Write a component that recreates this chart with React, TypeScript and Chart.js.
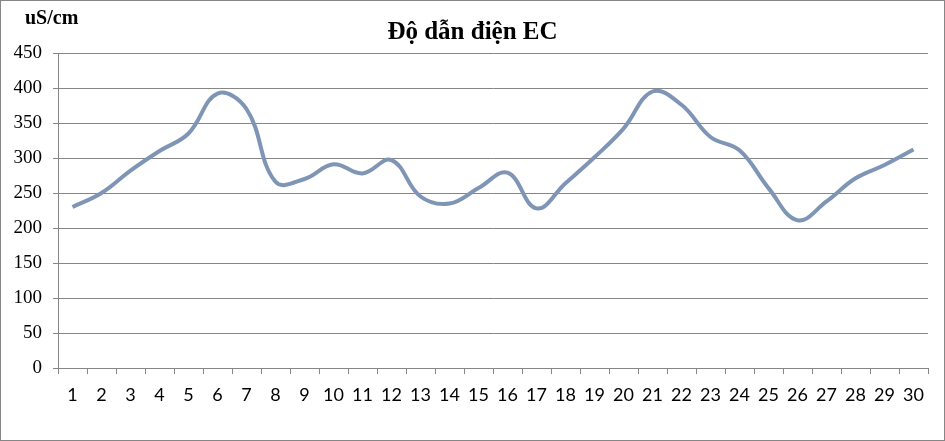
import React, { useEffect, useRef } from "react";
import { Chart, registerables } from "chart.js";

Chart.register(...registerables);

const days = [
  "1", "2", "3", "4", "5", "6", "7", "8", "9", "10",
  "11", "12", "13", "14", "15", "16", "17", "18", "19", "20",
  "21", "22", "23", "24", "25", "26", "27", "28", "29", "30",
];
const ecValues = [
  230, 250, 282, 310, 335, 392, 370, 266, 270, 291,
  278, 297, 245, 235, 257, 279, 228, 264, 301, 342,
  395, 376, 330, 311, 257, 211, 238, 271, 290, 312,
];
const yMin = 0;
const yMax = 450;
const yStep = 50;
const chartTitle = "Độ dẫn điện EC";
const unitLabel = "uS/cm";

const GRID = "#868686";
const LINE = "#7f95b5";

const decorPlugin = {
  id: "decor",
  afterDraw(chart: any) {
    const ctx = chart.ctx;
    ctx.save();
    ctx.strokeStyle = GRID;
    ctx.lineWidth = 1;
    ctx.strokeRect(0.5, 0.5, 944, 440);
    ctx.fillStyle = "#000";
    ctx.textBaseline = "alphabetic";
    ctx.font = "bold 25px 'Liberation Serif'";
    ctx.textAlign = "center";
    ctx.fillText(chartTitle, 472.5, 39);
    ctx.font = "bold 20px 'Liberation Serif'";
    ctx.textAlign = "left";
    ctx.fillText(unitLabel, 25, 24);
    ctx.restore();
  },
};

export default function App() {
  const ref = useRef<HTMLCanvasElement | null>(null);
  useEffect(() => {
    document.body.style.margin = "0";
    const canvas = ref.current;
    if (!canvas) return;
    const chart = new Chart(canvas, {
      type: "line",
      data: {
        labels: days,
        datasets: [
          {
            data: ecValues,
            borderColor: LINE,
            borderWidth: 4,
            pointRadius: 0,
            tension: 0.4,
            fill: false,
          },
        ],
      },
      options: {
        responsive: false,
        animation: false,
        devicePixelRatio: 1,
        layout: { padding: { top: 53, left: 0, right: 17, bottom: 0 } },
        plugins: {
          legend: { display: false },
          title: { display: false },
          tooltip: { enabled: false },
        },
        scales: {
          x: {
            offset: true,
            grid: {
              offset: true,
              drawOnChartArea: false,
              drawTicks: true,
              tickLength: 6,
              color: GRID,
            },
            border: { display: true, color: GRID },
            ticks: {
              color: "#000",
              font: { family: "Lato", size: 18 },
              padding: 10,
              maxRotation: 0,
              autoSkip: false,
            },
            afterFit(scale: any) {
              scale.height = 73;
            },
          },
          y: {
            min: yMin,
            max: yMax,
            grid: {
              color: GRID,
              drawTicks: true,
              tickLength: 5,
            },
            border: { display: true, color: GRID },
            ticks: {
              stepSize: yStep,
              color: "#000",
              font: { family: "Liberation Serif", size: 19 },
              padding: 11,
            },
            afterFit(scale: any) {
              scale.width = 58;
            },
          },
        },
      },
      plugins: [decorPlugin],
    });
    return () => chart.destroy();
  }, []);
  return (
    <div style={{ position: "absolute", left: 0, top: 0, width: 945, height: 441, background: "#fff" }}>
      <canvas ref={ref} width={945} height={441} />
    </div>
  );
}
